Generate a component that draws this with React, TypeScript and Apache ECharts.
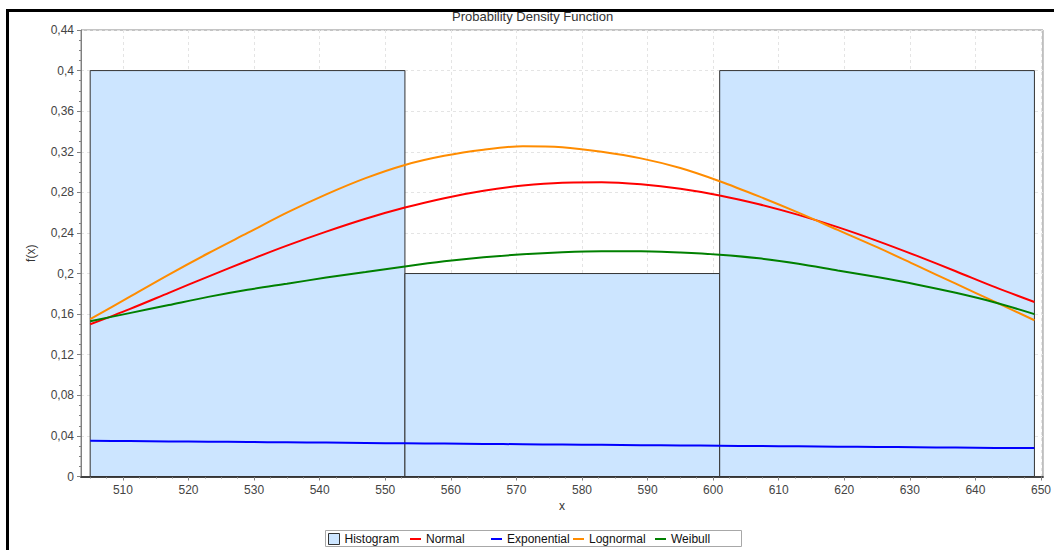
import React, { useEffect, useRef } from 'react';
import * as echarts from 'echarts';

// Histogram bins
const binStarts = [505, 553, 601];
const binEnds = [553, 601, 649];
const binHeights = [0.4, 0.2, 0.4];

// Fitted density curves
const xPoints = [505, 511, 517, 523, 529, 535, 541, 547, 553, 559, 565, 571, 577, 583, 589, 595, 601, 607, 613, 619, 625, 631, 637, 643, 649];
const normalPdf = [0.150, 0.165, 0.181, 0.197, 0.2126, 0.2275, 0.2413, 0.254, 0.265, 0.2743, 0.2816, 0.2867, 0.2895, 0.2899, 0.2879, 0.2836, 0.277, 0.2683, 0.2578, 0.2457, 0.2322, 0.2176, 0.2023, 0.1866, 0.172];
const exponentialPdf = [0.0352, 0.0349, 0.0346, 0.0343, 0.034, 0.0337, 0.0334, 0.033, 0.0327, 0.0324, 0.0321, 0.0318, 0.0315, 0.0312, 0.0309, 0.0306, 0.0303, 0.03, 0.0297, 0.0294, 0.0291, 0.0288, 0.0285, 0.0282, 0.028];
const lognormalPdf = [0.155, 0.177, 0.199, 0.220, 0.240, 0.260, 0.278, 0.294, 0.307, 0.316, 0.322, 0.3255, 0.3245, 0.320, 0.3135, 0.304, 0.291, 0.276, 0.260, 0.243, 0.226, 0.208, 0.190, 0.172, 0.154];
const weibullPdf = [0.153, 0.161, 0.169, 0.177, 0.184, 0.190, 0.196, 0.2015, 0.207, 0.212, 0.216, 0.219, 0.221, 0.222, 0.222, 0.2208, 0.2186, 0.215, 0.2097, 0.203, 0.1965, 0.1893, 0.181, 0.1715, 0.160];

// Axis ticks
const xMin = 503.6;
const xMax = 650.3;
const xMajorTicks = [510, 520, 530, 540, 550, 560, 570, 580, 590, 600, 610, 620, 630, 640, 650];
const xMinorTicks = [505, 507.5, 512.5, 515, 517.5, 522.5, 525, 527.5, 532.5, 535, 537.5, 542.5, 545, 547.5,
  552.5, 555, 557.5, 562.5, 565, 567.5, 572.5, 575, 577.5, 582.5, 585, 587.5, 592.5, 595, 597.5,
  602.5, 605, 607.5, 612.5, 615, 617.5, 622.5, 625, 627.5, 632.5, 635, 637.5, 642.5, 645, 647.5];

// Legend entries and their left positions
const legendNames = ['Histogram', 'Normal', 'Exponential', 'Lognormal', 'Weibull'];
const legendLefts = [328, 410, 491, 573, 655];

const FONT = '"Liberation Sans", Arial, sans-serif';
const HIST_FILL = '#CCE5FF';
const LINE_ICON = 'path://M0,0H11V2H0Z';

export default function App() {
  const ref = useRef<HTMLDivElement>(null);

  useEffect(() => {
    if (!ref.current) return;
    const chart = echarts.init(ref.current, undefined, { renderer: 'svg' });
    const histData = binStarts.map((s, i) => [s, binEnds[i], binHeights[i]]);
    const toPairs = (ys: number[]) => xPoints.map((x, i) => [x, ys[i]]);
    const lineSeries = (name: string, ys: number[], color: string) => ({
      name,
      type: 'line',
      data: toPairs(ys),
      smooth: 0.3,
      symbol: 'none',
      lineStyle: { color, width: 2 },
      itemStyle: { color },
      z: 3,
    });

    const legends = legendNames.map((name, i) => ({
      left: legendLefts[i],
      top: 533,
      padding: 0,
      itemWidth: 11,
      itemHeight: 11,
      symbolKeepAspect: true,
      textStyle: { fontSize: 12, color: '#111', fontFamily: FONT },
      data: [
        i === 0
          ? { name, icon: 'rect', itemStyle: { color: HIST_FILL, borderColor: '#333', borderWidth: 1 } }
          : { name, icon: LINE_ICON },
      ],
    }));

    chart.setOption({
      animation: false,
      textStyle: { fontFamily: FONT },
      title: {
        text: 'Probability Density Function',
        left: 452,
        top: 10,
        padding: 0,
        textStyle: { fontSize: 13, fontWeight: 'normal', color: '#333', fontFamily: FONT },
      },
      grid: {
        left: 81,
        top: 30,
        right: 6,
        bottom: 73.5,
        show: true,
        borderColor: '#888',
        borderWidth: 1,
        backgroundColor: '#fff',
      },
      legend: legends,
      xAxis: [
        {
          type: 'value',
          min: xMin,
          max: xMax,
          name: 'x',
          nameLocation: 'middle',
          nameGap: 16,
          nameTextStyle: { fontSize: 12, color: '#333', fontFamily: FONT },
          axisLine: { show: true, lineStyle: { color: '#444', width: 2 } },
          axisTick: { show: true, length: 4, customValues: xMajorTicks, lineStyle: { color: '#808080' } },
          axisLabel: { customValues: xMajorTicks, margin: 7, fontSize: 12, color: '#444', fontFamily: FONT },
          splitLine: { show: true, lineStyle: { color: '#e4e4e4', type: [3, 3] } },
        },
        {
          type: 'value',
          min: xMin,
          max: xMax,
          position: 'bottom',
          axisLine: { show: false },
          axisTick: { show: true, length: 2, customValues: xMinorTicks, lineStyle: { color: '#808080' } },
          axisLabel: { show: false },
          splitLine: { show: false },
        },
      ],
      yAxis: {
        type: 'value',
        min: 0,
        max: 0.44,
        interval: 0.04,
        name: 'f(x)',
        nameLocation: 'middle',
        nameGap: 44,
        nameTextStyle: { fontSize: 12, color: '#333', fontFamily: FONT },
        axisLine: { show: true, lineStyle: { color: '#808080', width: 1 } },
        axisTick: { show: true, length: 4, lineStyle: { color: '#808080' } },
        minorTick: { show: true, splitNumber: 4, length: 2, lineStyle: { color: '#808080' } },
        axisLabel: {
          margin: 7,
          fontSize: 12,
          color: '#444',
          fontFamily: FONT,
          formatter: (v: number) => String(+v.toFixed(2)).replace('.', ','),
        },
        splitLine: { show: true, lineStyle: { color: '#e4e4e4', type: [3, 3] } },
      },
      graphic: [
        { type: 'line', shape: { x1: 6, y1: 10.5, x2: 1054, y2: 10.5 }, style: { stroke: '#000', lineWidth: 3 }, z: 100 },
        { type: 'line', shape: { x1: 7.5, y1: 9, x2: 7.5, y2: 550 }, style: { stroke: '#000', lineWidth: 3 }, z: 100 },
        {
          type: 'rect',
          shape: { x: 325.5, y: 530.5, width: 416, height: 16 },
          style: { fill: 'none', stroke: '#a8a8a8', lineWidth: 1 },
          z: 0,
        },
      ],
      series: [
        {
          name: 'Histogram',
          type: 'custom',
          xAxisIndex: 0,
          itemStyle: { color: HIST_FILL, borderColor: '#333', borderWidth: 1 },
          encode: { x: [0, 1], y: 2 },
          data: histData,
          z: 1,
          renderItem: (params: any, api: any) => {
            const p0 = api.coord([api.value(0), api.value(2)]);
            const p1 = api.coord([api.value(1), 0]);
            return {
              type: 'rect',
              shape: { x: p0[0], y: p0[1], width: p1[0] - p0[0], height: p1[1] - p0[1] },
              style: { fill: HIST_FILL, stroke: '#333', lineWidth: 1 },
            };
          },
        },
        lineSeries('Normal', normalPdf, '#FF0000'),
        lineSeries('Exponential', exponentialPdf, '#0000FF'),
        lineSeries('Lognormal', lognormalPdf, '#FF8C00'),
        lineSeries('Weibull', weibullPdf, '#008000'),
      ],
    });
    return () => chart.dispose();
  }, []);

  return (
    <div
      ref={ref}
      style={{ position: 'fixed', left: 0, top: 0, width: 1054, height: 550, background: '#fff' }}
    />
  );
}
